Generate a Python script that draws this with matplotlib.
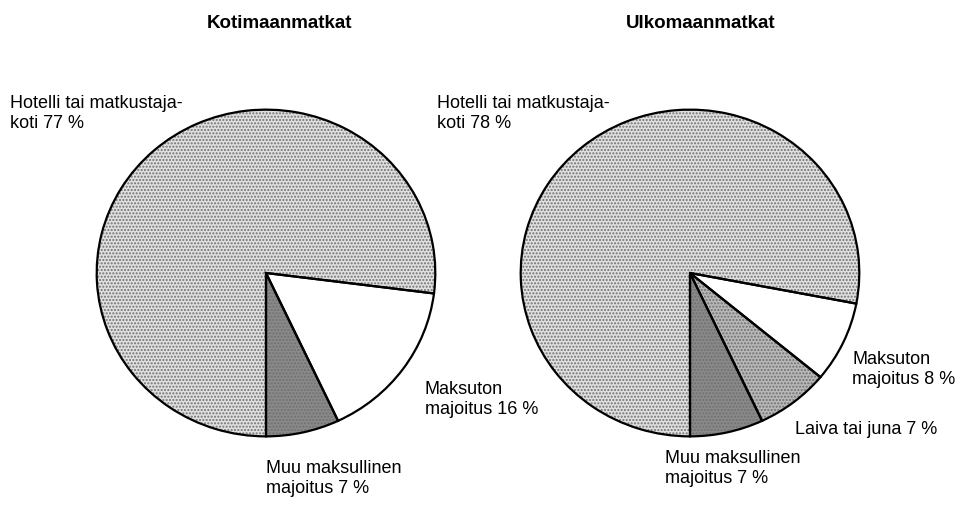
import matplotlib.pyplot as plt

plt.rcParams['font.family'] = ['Liberation Sans', 'DejaVu Sans']

# Kotimaanmatkat: Muu maksullinen, Maksuton, Hotelli
koti_labels = ['Muu maksullinen\nmajoitus 7 %', 'Maksuton\nmajoitus 16 %',
               'Hotelli tai matkustaja-\nkoti 77 %']
koti_values = [7, 16, 77]
koti_colors = ['#8a8a8a', '#ffffff', '#e0e0e0']

# Ulkomaanmatkat: Muu maksullinen, Laiva, Maksuton, Hotelli
ulko_labels = ['Muu maksullinen\nmajoitus 7 %', 'Laiva tai juna 7 %',
               'Maksuton\nmajoitus 8 %', 'Hotelli tai matkustaja-\nkoti 78 %']
ulko_values = [7, 7, 8, 78]
ulko_colors = ['#8a8a8a', '#b8b8b8', '#ffffff', '#e0e0e0']

W, H = 965, 505
fig = plt.figure(figsize=(W / 100, H / 100), dpi=100)


def px_axes(x0, y0, x1, y1):
    return fig.add_axes([x0 / W, 1 - y1 / H, (x1 - x0) / W, (y1 - y0) / H])


def draw_pie(ax, values, colors):
    wedges, _ = ax.pie(values, colors=colors, startangle=270, counterclock=True,
                       radius=1, wedgeprops=dict(linewidth=0))
    for w, c in zip(wedges, colors):
        if c != '#ffffff':
            w.set_hatch('.....')
            w.set_edgecolor('#707070')
    ax.pie(values, startangle=270, counterclock=True, radius=1,
           wedgeprops=dict(fill=False, edgecolor='black', linewidth=1.6))
    ax.set_aspect('auto')
    ax.set_xlim(-1.01, 1.01)
    ax.set_ylim(-1.01, 1.01)
    ax.axis('off')


ax1 = px_axes(95, 108, 437, 438)
draw_pie(ax1, koti_values, koti_colors)
ax2 = px_axes(519, 108, 861, 438)
draw_pie(ax2, ulko_values, ulko_colors)


def t(x, y, s, **kw):
    fig.text(x / W, 1 - y / H, s, fontsize=13, va='top', ha='left',
             linespacing=1.2, **kw)


fig.text(280 / W, 1 - 23 / H, 'Kotimaanmatkat', fontsize=13.5, weight='bold',
         ha='center', va='center')
fig.text(701 / W, 1 - 23 / H, 'Ulkomaanmatkat', fontsize=13.5, weight='bold',
         ha='center', va='center')

t(10, 95, koti_labels[2])
t(425, 381, koti_labels[1])
t(266, 460, koti_labels[0])

t(437, 95, ulko_labels[3])
t(852, 351, ulko_labels[2])
t(795, 421, ulko_labels[1])
t(665, 450, ulko_labels[0])

fig.savefig('out.png', dpi=100)
